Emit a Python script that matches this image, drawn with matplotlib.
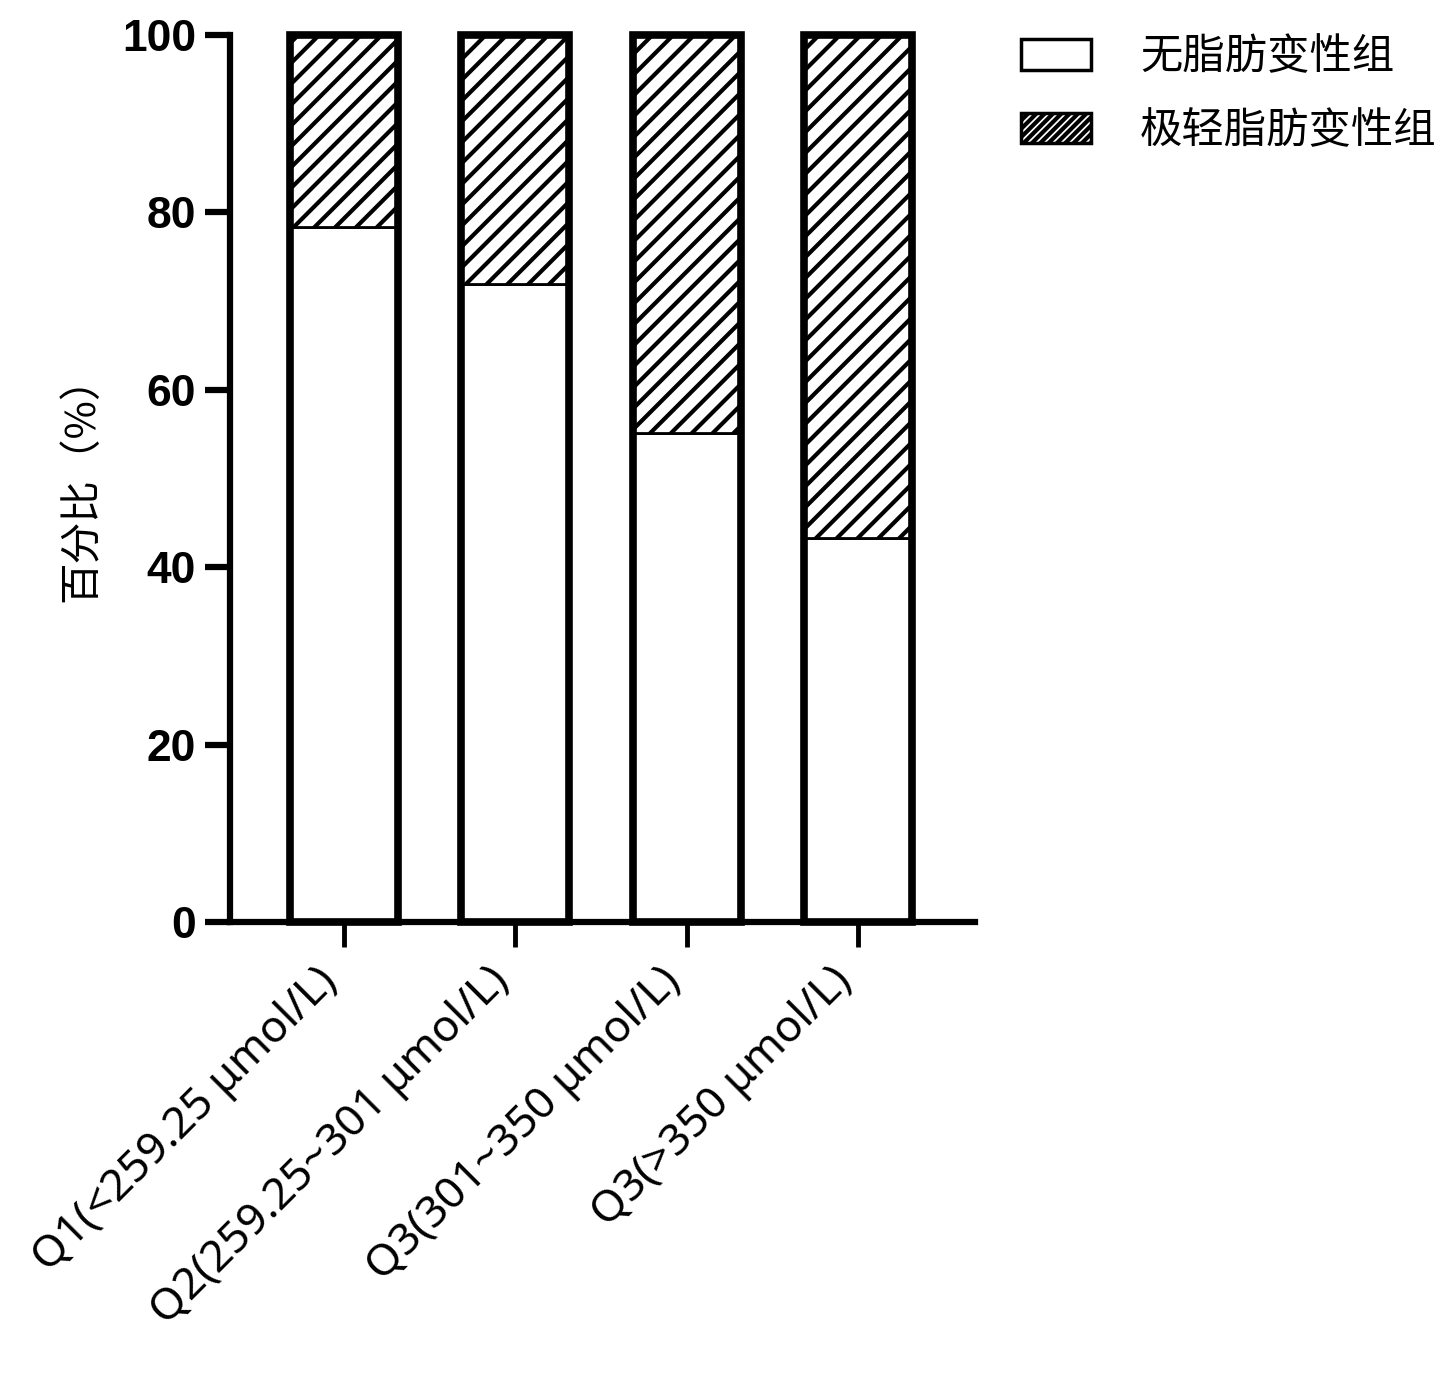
import numpy as np
import matplotlib.pyplot as plt
from matplotlib.patches import Patch
from matplotlib.transforms import ScaledTranslation

# data
categories = ['Q1(<259.25 μmol/L)', 'Q2(259.25~301 μmol/L)',
              'Q3(301~350 μmol/L)', 'Q3(>350 μmol/L)']
no_fatty = [78.3, 71.9, 55.1, 43.3]          # 无脂肪变性组
mild_fatty = [100 - v for v in no_fatty]      # 极轻脂肪变性组
legend_labels = ['无脂肪变性组', '极轻脂肪变性组']
yticks = [0, 20, 40, 60, 80, 100]

DPI = 125
S = 100 / DPI  # sizes below were tuned at dpi 100

plt.rcParams['font.family'] = ['Noto Sans CJK SC', 'DejaVu Sans']
plt.rcParams['hatch.linewidth'] = 3.0 * S

fig = plt.figure(figsize=(1453 / DPI, 1394 / DPI), dpi=DPI)
ax = fig.add_axes([0.158, 0.3386, 0.513, 0.6364])

x = np.arange(len(categories))
width = 0.63

ax.bar(x, no_fatty, width, color='white', edgecolor='black', linewidth=2 * S, clip_on=False)
ax.bar(x, mild_fatty, width, bottom=no_fatty, color='white', edgecolor='black',
       hatch='//', linewidth=2 * S, clip_on=False)
# thick outline around each stacked bar
ax.bar(x, np.array(no_fatty) + np.array(mild_fatty), width, fill=False,
       edgecolor='black', linewidth=5.5 * S, clip_on=False, zorder=3)

ax.set_xlim(-0.666, 3.68)
ax.set_ylim(0, 100)

for s in ['top', 'right']:
    ax.spines[s].set_visible(False)
ax.spines['left'].set_linewidth(4.5 * S)
ax.spines['bottom'].set_linewidth(4.5 * S)

ax.set_yticks(yticks)
ax.set_yticklabels([str(t) for t in yticks], fontsize=32 * S, fontweight='bold',
                   family='Liberation Sans')
ax.tick_params(axis='y', length=18 * S, width=4.5 * S, pad=6 * S)
ax.tick_params(axis='x', length=18 * S, width=3.5 * S, pad=20 * S)

ax.set_xticks(x)
ax.set_xticklabels(categories, rotation=45, ha='right', va='center',
                   rotation_mode='anchor', fontsize=32 * S,
                   family=['Noto Sans', 'DejaVu Sans'])
shift = ScaledTranslation(-13 / DPI, 0, fig.dpi_scale_trans)
for lab in ax.get_xticklabels():
    lab.set_transform(lab.get_transform() + shift)

ax.set_ylabel('百分比（%）', fontsize=30 * S, labelpad=14 * S)

handles = [Patch(facecolor='white', edgecolor='black', linewidth=2.5 * S),
           Patch(facecolor='white', edgecolor='black', linewidth=2.5 * S, hatch='/////')]
fig.legend(handles, legend_labels, loc='upper left', bbox_to_anchor=(0.6825, 0.996),
           frameon=False, fontsize=30.5 * S, handlelength=1.65, handleheight=0.72,
           handletextpad=1.15, labelspacing=0.7, borderaxespad=0.3)

plt.savefig('out.png', dpi=DPI)
